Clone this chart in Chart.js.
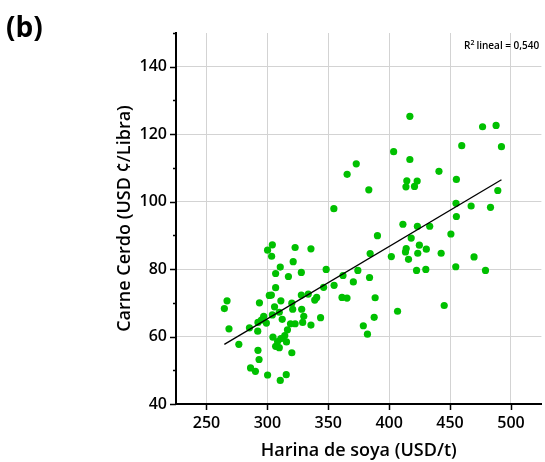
<!DOCTYPE html>
<html>
<head>
<meta charset="utf-8">
<script src="https://cdn.jsdelivr.net/npm/chart.js@4/dist/chart.umd.min.js"></script>
<style>
html,body{margin:0;padding:0;background:#fff;}
#wrap{position:relative;width:545px;height:462px;}
</style>
</head>
<body>
<div id="wrap"><canvas id="c" width="545" height="462"></canvas></div>
<script>
// Soybean meal price (USD/t) — x values
const soyMeal = [
  304.1,300.2,303.5,322.8,335.8,321.2,310.6,306.8,317.3,327.9,
  306.8,301.6,303.3,293.5,311.1,320.1,327.9,333.6,266.9,264.7,
  305.9,320.8,328.2,309.8,304.1,297.0,295.1,299.2,292.3,312.2,
  329.9,329.0,319.0,322.8,335.8,268.5,285.3,292.1,316.5,304.6,
  314.3,311.1,315.7,308.4,306.8,309.8,276.6,292.3,320.1,293.2,
  286.2,290.2,300.2,315.5,310.6,
  390.4,384.4,401.8,348.3,362.1,374.3,370.6,383.9,354.8,346.2,
  340.5,338.9,361.3,365.4,388.5,343.7,387.7,378.8,382.2,406.9,
  450.7,418.1,414.0,413.4,424.8,430.5,423.5,415.9,442.7,469.7,
  422.5,430.1,454.7,479.1,445.2,
  417.0,476.7,487.8,459.6,492.2,403.7,417.0,440.9,455.2,414.5,
  423.0,413.8,420.8,489.2,454.9,467.3,483.2,455.2,411.3,423.2,
  433.3,
  373.0,365.5,383.3,354.6
];
// Pork price (USD ¢/lb) — y values
const porkPrice = [
  87.2,85.6,83.8,86.4,86.0,82.2,80.6,78.7,77.8,79.0,
  74.5,72.2,72.3,70.0,70.6,69.9,72.3,72.6,70.6,68.3,
  68.8,68.1,68.1,67.2,66.4,66.0,64.9,64.0,64.2,65.1,
  66.0,64.2,63.8,63.8,63.4,62.3,62.6,61.6,62.0,59.8,
  60.3,59.4,58.4,58.5,57.1,56.7,57.7,55.9,55.2,53.2,
  50.7,49.7,48.6,48.7,47.0,
  89.9,84.6,83.7,79.9,78.1,79.6,76.2,77.5,75.2,74.6,
  71.6,70.8,71.6,71.4,71.5,65.6,65.7,63.2,60.7,67.5,
  90.4,89.2,86.1,85.1,87.1,85.9,84.7,82.9,84.7,83.6,
  79.6,79.9,80.7,79.6,69.2,
  125.3,122.2,122.6,116.6,116.3,114.8,112.5,109.0,106.6,106.2,
  106.1,104.4,104.5,103.3,99.5,98.7,98.3,95.6,93.3,92.7,
  92.7,
  111.2,108.1,103.5,97.9
];
const xTicks = [250,300,350,400,450,500];
const yTicks = [40,60,80,100,120,140];
const yMinorTicks = [50,70,90,110,130,150];
const xTitle = 'Harina de soya (USD/t)';
const yTitle = 'Carne Cerdo (USD ¢/Libra)';
const panelLabel = '(b)';
const r2Text = 'lineal = 0,540';

const points = soyMeal.map((x,i)=>({x:x, y:porkPrice[i]}));

// least-squares fit line from the data
const n = soyMeal.length;
const mx = soyMeal.reduce((a,b)=>a+b,0)/n;
const my = porkPrice.reduce((a,b)=>a+b,0)/n;
let sxy=0, sxx=0;
for(let i=0;i<n;i++){ sxy+=(soyMeal[i]-mx)*(porkPrice[i]-my); sxx+=(soyMeal[i]-mx)**2; }
const slope = sxy/sxx, intercept = my - slope*mx;
const xLo = Math.min(...soyMeal), xHi = Math.max(...soyMeal);
const fitLine = [{x:xLo, y:intercept+slope*xLo},{x:xHi, y:intercept+slope*xHi}];

const FONT = "'Open Sans', sans-serif";
Chart.defaults.font.family = FONT;

const decor = {
  id:'decor',
  afterDraw(chart){
    const ctx = chart.ctx, xs = chart.scales.x, ys = chart.scales.y, a = chart.chartArea;
    ctx.save();
    ctx.strokeStyle = '#000';
    ctx.lineWidth = 1.5;
    ctx.beginPath();
    yTicks.forEach(v=>{ const p = Math.round(ys.getPixelForValue(v))+0.5; ctx.moveTo(a.left-6,p); ctx.lineTo(a.left,p); });
    yMinorTicks.forEach(v=>{ const p = Math.round(ys.getPixelForValue(v))+0.5; ctx.moveTo(a.left-3,p); ctx.lineTo(a.left,p); });
    xTicks.forEach(v=>{ const p = Math.round(xs.getPixelForValue(v))+0.5; ctx.moveTo(p,a.bottom); ctx.lineTo(p,a.bottom+6); });
    ctx.stroke();
    ctx.fillStyle = '#000';
    ctx.textBaseline = 'alphabetic';
    ctx.textAlign = 'left';
    ctx.font = "bold 28px " + FONT;
    ctx.fillText(panelLabel, 6, 37);
    let x = 464, y = 49;
    ctx.font = "600 10px " + FONT;
    ctx.fillText('R', x, y); x += ctx.measureText('R').width;
    ctx.font = "600 7px " + FONT;
    ctx.fillText('2', x, y-4); x += ctx.measureText('2').width + 2;
    ctx.font = "600 10px " + FONT;
    ctx.fillText(r2Text, x, y);
    ctx.restore();
  }
};

new Chart(document.getElementById('c'), {
  type:'scatter',
  data:{
    datasets:[
      { data: points, backgroundColor:'#00c000', borderColor:'#00c000', borderWidth:0, pointRadius:3.6, pointHoverRadius:3.6, order:2 },
      { data: fitLine, showLine:true, borderColor:'#000', borderWidth:1.3, pointRadius:0, fill:false, order:1 }
    ]
  },
  options:{
    responsive:false,
    animation:false,
    devicePixelRatio:1,
    layout:{ padding:{ top:33, left:0, right:0, bottom:0 } },
    plugins:{ legend:{display:false}, tooltip:{enabled:false} },
    scales:{
      x:{
        type:'linear', min:225, max:525,
        afterBuildTicks: s => { s.ticks = xTicks.map(v=>({value:v})); },
        afterFit: s => { s.height = 58; },
        grid:{ color:'#d3d3d3', lineWidth:1, drawTicks:false },
        border:{ color:'#000', width:2 },
        ticks:{ color:'#000', font:{size:16, weight:'600'}, padding:10, maxRotation:0 },
        title:{ display:true, text:xTitle, color:'#000', font:{size:18, weight:'600'}, padding:{top:0, bottom:0} }
      },
      y:{
        type:'linear', min:40, max:150,
        afterBuildTicks: s => { s.ticks = yTicks.map(v=>({value:v})); },
        afterFit: s => { s.width = 176; },
        grid:{ color: c => (c.tick && c.tick.value===40) ? 'rgba(0,0,0,0)' : '#d3d3d3', lineWidth:1, drawTicks:false },
        border:{ color:'#000', width:2 },
        ticks:{ color:'#000', font:{size:16, weight:'600'}, padding:9 },
        title:{ display:true, text:yTitle, color:'#000', font:{size:18, weight:'600'}, padding:{top:114, bottom:0} }
      }
    }
  },
  plugins:[decor]
});
</script>
</body>
</html>
